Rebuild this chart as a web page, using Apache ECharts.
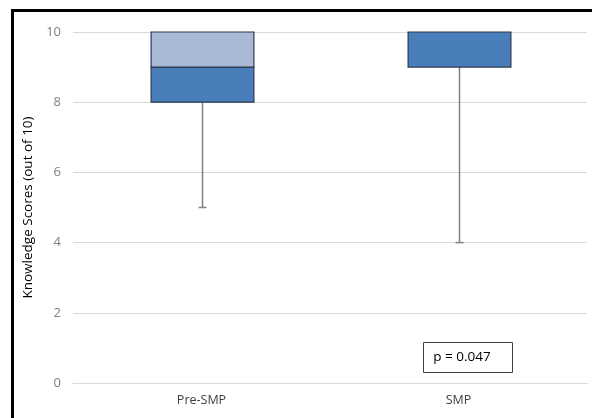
<!DOCTYPE html>
<html><head><meta charset="utf-8">
<script src="https://cdn.jsdelivr.net/npm/echarts@6/dist/echarts.min.js"></script>
<style>html,body{margin:0;padding:0;background:#fff}#c{width:592px;height:418px}</style>
</head><body><div id="c"></div>
<script>
const categories = ['Pre-SMP', 'SMP'];
const minVals = [5, 4];
const q1Vals = [8, 9];
const medianVals = [9, 10];
const q3Vals = [10, 10];
const maxVals = [10, 10];
const yTicks = [0, 2, 4, 6, 8, 10];
const pText = 'p = 0.047';

const data = categories.map((c, i) => [i, minVals[i], q1Vals[i], medianVals[i], q3Vals[i], maxVals[i]]);
const FONT = '"Open Sans", "Liberation Sans", sans-serif';

const chart = echarts.init(document.getElementById('c'), null, {renderer: 'canvas'});
chart.setOption({
  animation: false,
  backgroundColor: '#fff',
  grid: {left: 73, right: 5, top: 32, bottom: 35},
  xAxis: {
    type: 'category', data: categories,
    axisLine: {show: true, lineStyle: {color: '#d9d9d9', width: 1}},
    axisTick: {show: false},
    axisLabel: {color: '#404040', fontSize: 12.5, fontFamily: FONT, margin: 11}
  },
  yAxis: {
    type: 'value', min: yTicks[0], max: yTicks[yTicks.length - 1], interval: 2,
    name: 'Knowledge Scores (out of 10)', nameLocation: 'middle', nameGap: 37, nameRotate: 90,
    nameTextStyle: {color: '#000', fontSize: 13.5, fontFamily: FONT},
    axisLine: {show: false}, axisTick: {show: false},
    axisLabel: {color: '#808080', fontSize: 13, fontFamily: FONT, margin: 12},
    splitLine: {lineStyle: {color: '#d9d9d9', width: 1}}
  },
  series: [{
    type: 'custom',
    data: data,
    encode: {x: 0, y: [1, 2, 3, 4, 5]},
    renderItem: function (params, api) {
      const x = api.value(0);
      const pMin = api.coord([x, api.value(1)]);
      const pQ1 = api.coord([x, api.value(2)]);
      const pMed = api.coord([x, api.value(3)]);
      const pQ3 = api.coord([x, api.value(4)]);
      const pMax = api.coord([x, api.value(5)]);
      const w = api.size([1, 0])[0] * 0.4;
      const cx = Math.round(pMin[0]) + 0.5;
      const left = cx - w / 2;
      const whisk = {stroke: '#808080', lineWidth: 1.5};
      const children = [
        {type: 'line', shape: {x1: cx, y1: pQ1[1], x2: cx, y2: pMin[1]}, style: whisk},
        {type: 'line', shape: {x1: cx - 4, y1: pMin[1], x2: cx + 4, y2: pMin[1]}, style: whisk},
        {type: 'line', shape: {x1: cx, y1: pQ3[1], x2: cx, y2: pMax[1]}, style: whisk}
      ];
      if (pQ1[1] - pMed[1] > 0.5) {
        children.push({type: 'rect', shape: {x: left, y: pMed[1], width: w, height: pQ1[1] - pMed[1]},
          style: {fill: '#4a7ebb', stroke: '#2b3a4f', lineWidth: 1.2}});
      }
      if (pMed[1] - pQ3[1] > 0.5) {
        children.push({type: 'rect', shape: {x: left, y: pQ3[1], width: w, height: pMed[1] - pQ3[1]},
          style: {fill: '#a9b8d7', stroke: '#2b3a4f', lineWidth: 1.2}});
      }
      return {type: 'group', children: children};
    }
  }],
  graphic: [
    {type: 'rect', silent: true, z: 100, shape: {x: 12.5, y: 10.5, width: 620, height: 440},
      style: {fill: 'none', stroke: '#000', lineWidth: 3}},
    {type: 'rect', z: 100, shape: {x: 423.5, y: 342.5, width: 89, height: 30},
      style: {fill: '#fff', stroke: '#404040', lineWidth: 1}},
    {type: 'text', z: 101, x: 462, y: 357,
      style: {text: pText, fill: '#000', fontSize: 13.5, fontFamily: FONT, textAlign: 'center', textVerticalAlign: 'middle'}}
  ]
});
</script></body></html>
